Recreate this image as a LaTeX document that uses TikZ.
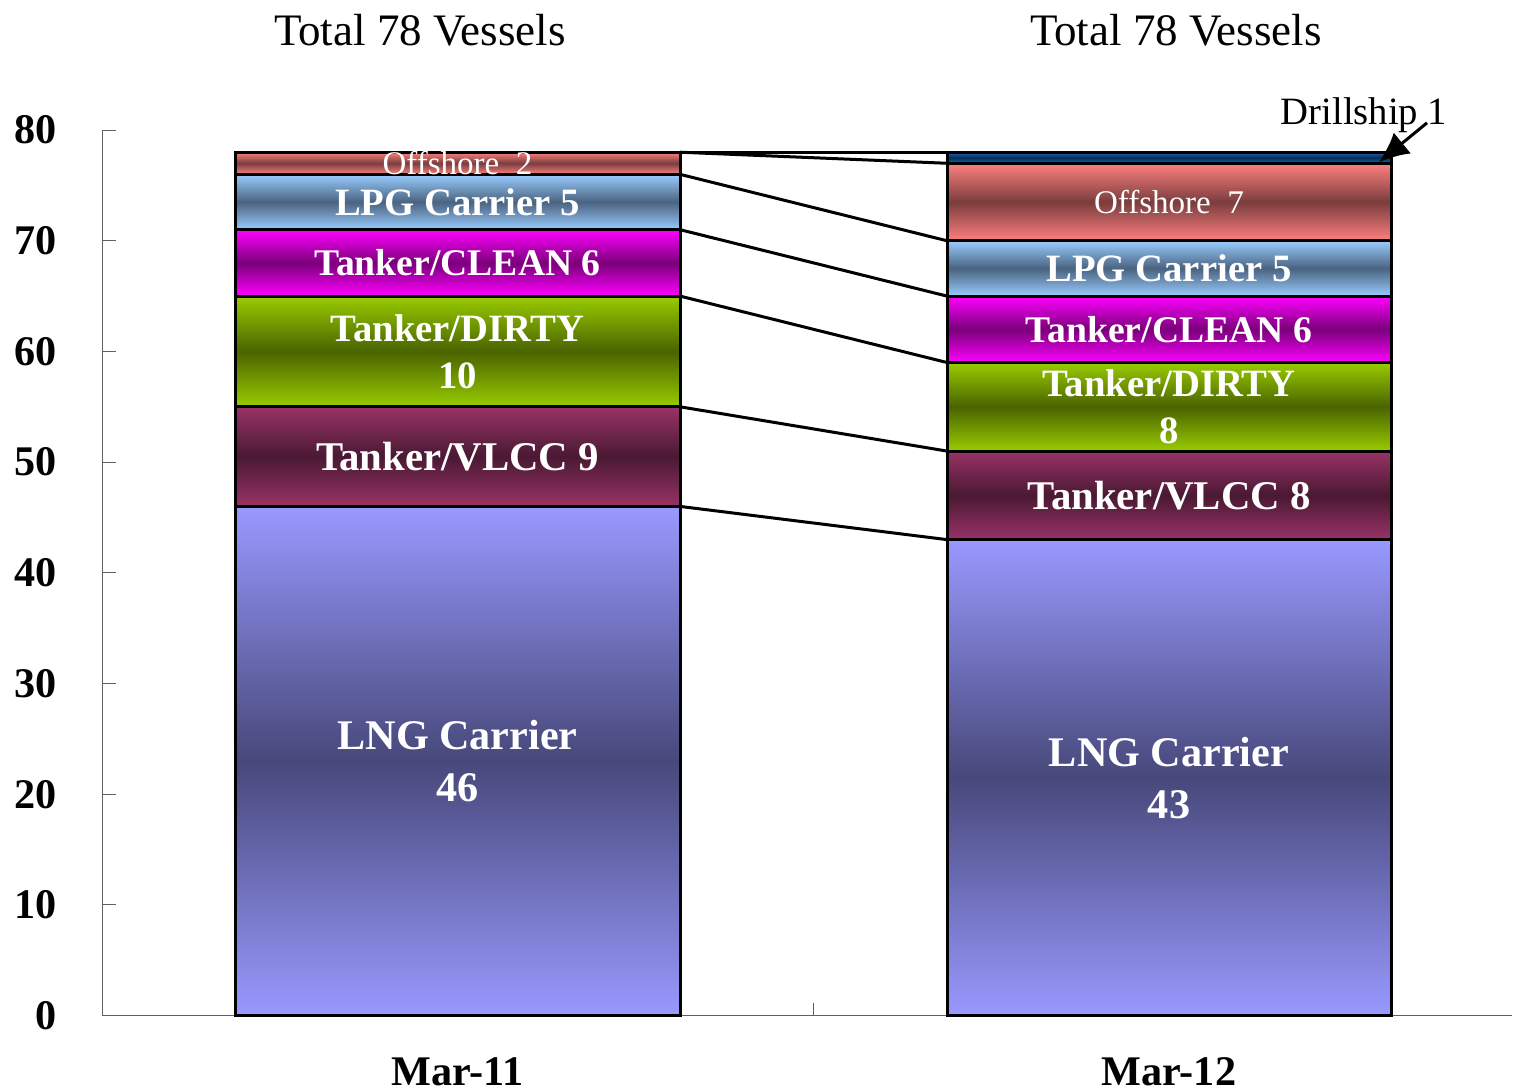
\documentclass[tikz,border=0pt]{standalone}
\usepackage{fontspec}
\setmainfont{Liberation Serif}
\usetikzlibrary{arrows.meta}

\definecolor{lngout}{HTML}{9999FF}
\definecolor{lngmid}{HTML}{47487A}
\definecolor{vlccout}{HTML}{993366}
\definecolor{vlccmid}{HTML}{4A1933}
\definecolor{dirtyout}{HTML}{99CC00}
\definecolor{dirtymid}{HTML}{4A6300}
\definecolor{cleanout}{HTML}{FF00FF}
\definecolor{cleanmid}{HTML}{7A007A}
\definecolor{lpgout}{HTML}{99CCFF}
\definecolor{lpgmid}{HTML}{4A6380}
\definecolor{offout}{HTML}{FF8080}
\definecolor{offmid}{HTML}{7A3D3D}
\definecolor{drillout}{HTML}{2363A8}
\definecolor{drillmid}{HTML}{002B5C}
\definecolor{axisgray}{HTML}{606060}

\begin{document}
\begin{tikzpicture}[x=0.01cm, y=0.110625cm,
    lng/.style={top color=lngout, bottom color=lngout, middle color=lngmid},
    vlcc/.style={top color=vlccout, bottom color=vlccout, middle color=vlccmid},
    dirty/.style={top color=dirtyout, bottom color=dirtyout, middle color=dirtymid},
    clean/.style={top color=cleanout, bottom color=cleanout, middle color=cleanmid},
    lpg/.style={top color=lpgout, bottom color=lpgout, middle color=lpgmid},
    offsh/.style={top color=offout, bottom color=offout, middle color=offmid},
    drill/.style={top color=drillout, bottom color=drillout, middle color=drillmid},
    segline/.style={draw=black, line width=0.03cm},
    barlabel/.style={text=white, align=center, inner sep=0pt,
        font=\fontsize{11}{13.4}\selectfont\bfseries},
    biglabel/.style={barlabel, font=\fontsize{12}{14.8}\selectfont\bfseries},
    offlabel/.style={text=white, inner sep=0pt, font=\fontsize{9.4}{11}\selectfont},
    ticklabel/.style={anchor=east, inner sep=0pt, font=\fontsize{12}{14}\selectfont\bfseries},
    catlabel/.style={anchor=base, inner sep=0pt, font=\fontsize{12}{14}\selectfont\bfseries},
    totlabel/.style={inner sep=0pt, font=\fontsize{12.8}{15}\selectfont}]
    \useasboundingbox (-102,-6.78) rectangle (1412,91.75);

    % axes
    \draw[axisgray, line width=0.01cm] (0,80) -- (0,0) -- (1410,0);
    \draw[axisgray, line width=0.01cm] (711,0) -- (711,1.15);
    \foreach \v in {0,10,...,80} {
        \draw[axisgray, line width=0.01cm] (0,\v) -- (14,\v);
        \node[ticklabel] (tick\v) at (-45,\v) {\v};
    }

    % Mar-11 bar
    \foreach \a/\b/\s in {0/46/lng,46/55/vlcc,55/65/dirty,65/71/clean,71/76/lpg,76/78/offsh} {
        \shade[\s, segline] (133,\a) rectangle (578,\b);
        \coordinate (left\b) at (578,\b);
    }
    % Mar-12 bar
    \foreach \a/\b/\s in {0/43/lng,43/51/vlcc,51/59/dirty,59/65/clean,65/70/lpg,70/77/offsh,77/78/drill} {
        \shade[\s, segline] (845,\a) rectangle (1289,\b);
        \coordinate (right\b) at (845,\b);
    }

    % series lines
    \foreach \p/\q in {46/43,55/51,65/59,71/65,76/70,78/77,78/78}
        \draw[line width=0.03cm] (left\p) -- (right\q);

    \node[biglabel] (lng11) at (355.5,23) {LNG Carrier\\46};
    \node[barlabel, font=\fontsize{11.6}{14}\selectfont\bfseries] (vlcc11) at (355.5,50.5) {Tanker/VLCC 9};
    \node[barlabel] (dirty11) at (355.5,60) {Tanker/DIRTY\\10};
    \node[barlabel, font=\fontsize{10.7}{13}\selectfont\bfseries] (clean11) at (355.5,68) {Tanker/CLEAN 6};
    \node[barlabel] (lpg11) at (355.5,73.5) {LPG Carrier 5};
    \node[offlabel] (off11) at (355.5,77) {Offshore\ \ 2};

    \node[biglabel] (lng12) at (1067,21.5) {LNG Carrier\\43};
    \node[barlabel, font=\fontsize{11.6}{14}\selectfont\bfseries] (vlcc12) at (1067,47) {Tanker/VLCC 8};
    \node[barlabel] (dirty12) at (1067,55) {Tanker/DIRTY\\8};
    \node[barlabel, font=\fontsize{10.7}{13}\selectfont\bfseries] (clean12) at (1067,62) {Tanker/CLEAN 6};
    \node[barlabel] (lpg12) at (1067,67.5) {LPG Carrier 5};
    \node[offlabel] (off12) at (1067,73.5) {Offshore\ \ 7};

    % drillship callout
    \node[inner sep=0pt, font=\fontsize{11}{13}\selectfont] (drillship) at (1262,81.3) {Drillship 1};
    \coordinate (drillfoot) at (1325,80.65);
    \coordinate (drilltip) at (1277,77.1);
    \draw[line width=0.03cm, -{Latex[length=0.3cm,width=0.27cm]}] (drillfoot) -- (drilltip);

    % titles and categories
    \node[totlabel] (tot11) at (318,89.05) {Total 78 Vessels};
    \node[totlabel] (tot12) at (1074,89.05) {Total 78 Vessels};
    \node[catlabel] (mar11) at (355.5,-6.35) {Mar-11};
    \node[catlabel] (mar12) at (1067,-6.35) {Mar-12};
\end{tikzpicture}
\end{document}
